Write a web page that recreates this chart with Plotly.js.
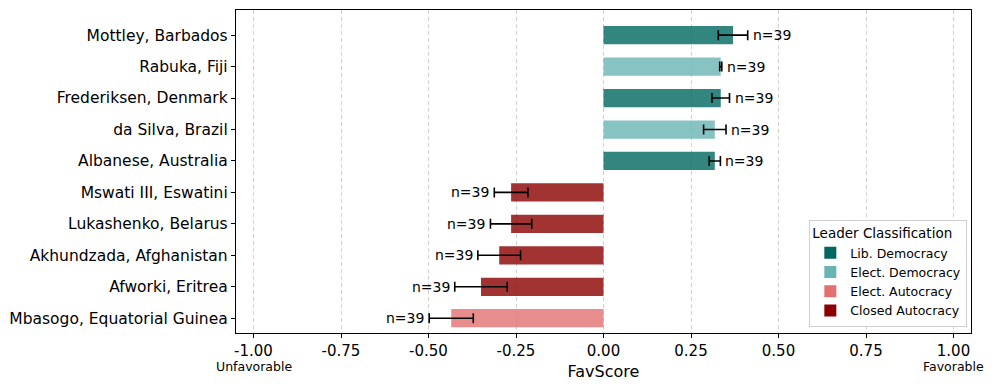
<!DOCTYPE html>
<html>
<head>
<meta charset="utf-8">
<script src="https://cdn.plot.ly/plotly-3.0.1.min.js"></script>
<style>
  body { margin: 0; background: #fff; }
  #chart { width: 997px; height: 391px; }
</style>
</head>
<body>
<div id="chart"></div>
<script>
// leaders, top to bottom
const leaders = [
  'Mottley, Barbados', 'Rabuka, Fiji', 'Frederiksen, Denmark', 'da Silva, Brazil',
  'Albanese, Australia', 'Mswati III, Eswatini', 'Lukashenko, Belarus',
  'Akhundzada, Afghanistan', 'Afworki, Eritrea', 'Mbasogo, Equatorial Guinea'
];
const favScore = [0.37, 0.335, 0.335, 0.318, 0.318, -0.264, -0.264, -0.298, -0.350, -0.435];
const favErr = [0.042, 0.003, 0.025, 0.032, 0.016, 0.048, 0.059, 0.061, 0.075, 0.063];
const nCount = [39, 39, 39, 39, 39, 39, 39, 39, 39, 39];
const leaderClass = [
  'Lib. Democracy', 'Elect. Democracy', 'Lib. Democracy', 'Elect. Democracy',
  'Lib. Democracy', 'Closed Autocracy', 'Closed Autocracy', 'Closed Autocracy',
  'Closed Autocracy', 'Elect. Autocracy'
];
const classes = ['Lib. Democracy', 'Elect. Democracy', 'Elect. Autocracy', 'Closed Autocracy'];
const classColors = {
  'Lib. Democracy': '#006660',
  'Elect. Democracy': '#68b4b3',
  'Elect. Autocracy': '#e27070',
  'Closed Autocracy': '#8b0000',
};
const xTicks = [-1, -0.75, -0.5, -0.25, 0, 0.25, 0.5, 0.75, 1];

const fontFam = 'DejaVu Sans, sans-serif';

// bars, one trace per class (alpha like the original)
const traces = classes.map(cls => {
  const idx = leaders.map((_, i) => i).filter(i => leaderClass[i] === cls);
  return {
    type: 'bar',
    orientation: 'h',
    y: idx.map(i => leaders[i]),
    x: idx.map(i => favScore[i]),
    width: 0.58,
    marker: { color: classColors[cls], opacity: 0.8, line: { width: 0 } },
    error_x: {
      type: 'data', array: idx.map(i => favErr[i]), visible: true,
      color: '#000', thickness: 1.6, width: 5,
    },
    showlegend: false,
    hoverinfo: 'x+y',
  };
});

// legend entries with full colour
classes.forEach(cls => {
  traces.push({
    type: 'bar', orientation: 'h', x: [null], y: [leaders[0]],
    name: cls, marker: { color: classColors[cls] }, showlegend: true,
  });
});

const annotations = leaders.map((name, i) => {
  const pos = favScore[i] >= 0;
  return {
    x: pos ? favScore[i] + favErr[i] : favScore[i] - favErr[i],
    y: name, xref: 'x', yref: 'y',
    text: 'n=' + nCount[i], showarrow: false,
    xanchor: pos ? 'left' : 'right', xshift: pos ? 3 : -3,
    font: { family: fontFam, size: 14, color: '#000' },
  };
});
annotations.push(
  { x: -1, y: 0, xref: 'x', yref: 'paper', yshift: -24, text: 'Unfavorable', showarrow: false,
    xanchor: 'center', yanchor: 'top', font: { family: fontFam, size: 12.5, color: '#000' } },
  { x: 1, y: 0, xref: 'x', yref: 'paper', yshift: -24, text: 'Favorable', showarrow: false,
    xanchor: 'center', yanchor: 'top', font: { family: fontFam, size: 12.5, color: '#000' } }
);

const layout = {
  width: 997, height: 391,
  margin: { l: 236, r: 26, t: 10, b: 58 },
  paper_bgcolor: '#fff', plot_bgcolor: '#fff',
  font: { family: fontFam, size: 14, color: '#000' },
  barmode: 'overlay',
  xaxis: {
    range: [-1.05, 1.05],
    tickvals: xTicks,
    ticktext: xTicks.map(v => v.toFixed(2)),
    ticks: 'outside', ticklen: 4, tickcolor: '#000',
    showgrid: true, gridcolor: '#d0d0d0', griddash: '4px,3px', gridwidth: 1,
    zeroline: false,
    showline: true, linecolor: '#000', linewidth: 1.2, mirror: true,
    title: { text: 'FavScore', font: { size: 16 }, standoff: 6 },
    tickfont: { size: 15 },
  },
  yaxis: {
    type: 'category',
    categoryorder: 'array', categoryarray: leaders,
    range: [9.47, -0.8],
    ticks: 'outside', ticklen: 4, tickcolor: '#000',
    showgrid: false, zeroline: false,
    showline: true, linecolor: '#000', linewidth: 1.2, mirror: true,
    tickfont: { size: 15.5 },
  },
  legend: {
    x: 0.995, xanchor: 'right', y: 0.02, yanchor: 'bottom',
    bgcolor: 'rgba(255,255,255,0.9)', bordercolor: '#d0d0d0', borderwidth: 1,
    title: { text: 'Leader Classification', font: { size: 13.5 }, side: 'top' },
    font: { size: 12.5 }, tracegroupgap: 0,
  },
  annotations: annotations,
  showlegend: true,
};

Plotly.newPlot('chart', traces, layout, { displayModeBar: false, staticPlot: true });
</script>
</body>
</html>
